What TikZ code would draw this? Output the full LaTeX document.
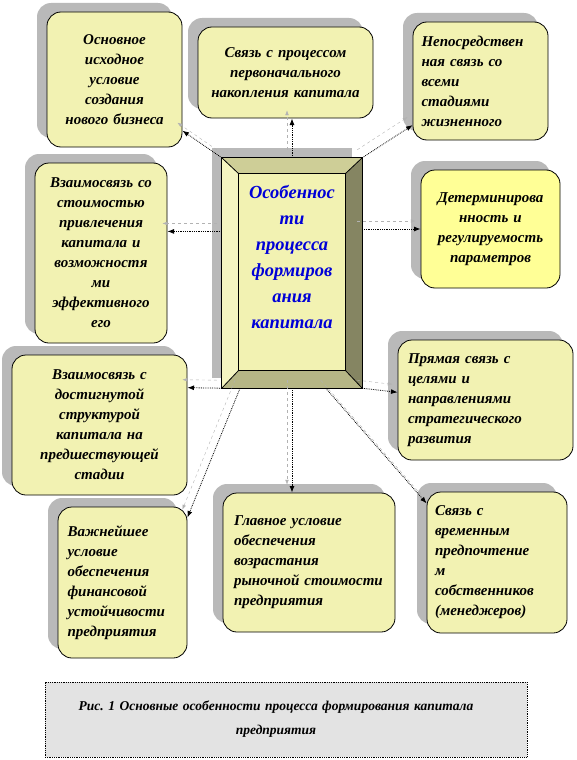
\documentclass[tikz,border=0pt]{standalone}
\usepackage{fontspec}
\setmainfont{Liberation Serif}
\frenchspacing
\usetikzlibrary{calc,arrows.meta,shadows}
\definecolor{boxfill}{RGB}{242,242,178}
\definecolor{lightfill}{RGB}{255,255,150}
\definecolor{coreblue}{RGB}{0,0,215}

\begin{document}
\begin{tikzpicture}[>=Latex,x=1pt,y=-1pt,
  every node/.style={font=\fontsize{15}{20}\selectfont\bfseries\itshape},
  card/.style={draw,thick,rounded corners=14pt,fill=boxfill,inner sep=0pt,
    general shadow={fill=gray!55,shadow xshift=-10pt,shadow yshift=9pt}},
  link/.style={->,densely dotted,thick},
  ghost/.style={->,dashed,gray!60,thin,transform canvas={xshift=-5pt,yshift=8pt}}]
  \useasboundingbox (0,0) rectangle (576,760);
  % Central block: bevelled frame with a shadow
  \node[minimum width=140pt,minimum height=230pt,inner sep=0pt] (core) at (292,273) {};
  \fill[gray!55] ($(core.north west)+(-10,-10)$) rectangle ($(core.south east)+(-10,-10)$);
  \coordinate (i1) at ($(core.north west)+(17,16)$);
  \coordinate (i2) at ($(core.north east)+(-17,16)$);
  \coordinate (i3) at ($(core.south east)+(-17,-18)$);
  \coordinate (i4) at ($(core.south west)+(17,-18)$);
  \fill[boxfill] (i1) rectangle (i3);
  \fill[boxfill!80!white] (core.north west) -- (i1) -- (i4) -- (core.south west) -- cycle;
  \fill[boxfill!85!black] (core.north west) -- (core.north east) -- (i2) -- (i1) -- cycle;
  \fill[boxfill!55!black] (core.north east) -- (core.south east) -- (i3) -- (i2) -- cycle;
  \fill[boxfill!75!black] (core.south west) -- (core.south east) -- (i3) -- (i4) -- cycle;
  \draw[thick] (core.north west) rectangle (core.south east);
  \draw[thick] (i1) rectangle (i3);
  \foreach \c/\i in {north west/i1,north east/i2,south east/i3,south west/i4}
    \draw[thick] (core.\c) -- (\i);
  \node[text=coreblue,align=center,font=\fontsize{18.5}{26}\selectfont\bfseries\itshape] (title) at (292,257)
    {Особеннос\\ти\\процесса\\формиров\\ания\\капитала};
  % Cards around the core
  \node[card,minimum width=135pt,minimum height=135pt,text width=125pt,align=center] (b1) at (114.5,79.5)
    {Основное\\исходное\\условие\\создания\\нового бизнеса};
  \node[card,minimum width=175pt,minimum height=91pt,text width=165pt,align=center] (b2) at (285.5,72.5)
    {Связь с процессом\\первоначального\\накопления капитала};
  \node[card,minimum width=135pt,minimum height=118pt,text width=118pt,align=left] (b3) at (480.5,81)
    {Непосредствен\\ная связь со\\всеми\\стадиями\\жизненного};
  \node[card,minimum width=132pt,minimum height=180pt,text width=125pt,align=center] (b4) at (101,253)
    {Взаимосвязь со\\стоимостью\\привлечения\\капитала и\\возможностя\\ми\\эффективного\\его};
  \node[card,fill=lightfill,minimum width=139pt,minimum height=118pt,text width=135pt,align=center] (b6) at (490.5,229)
    {Детерминирова\\нность и\\регулируемость\\параметров};
  \node[card,minimum width=175pt,minimum height=140pt,text width=165pt,align=center] (b7) at (99.5,425)
    {Взаимосвязь с\\достигнутой\\структурой\\капитала на\\предшествующей\\стадии};
  \node[card,minimum width=175pt,minimum height=120pt,text width=155pt,align=left] (b8) at (485.5,400)
    {Прямая связь с\\целями и\\направлениями\\стратегического\\развития};
  \node[card,minimum width=129pt,minimum height=151pt,text width=110pt,align=left] (b9) at (122.5,582.5)
    {Важнейшее\\условие\\обеспечения\\финансовой\\устойчивости\\предприятия};
  \node[card,minimum width=172pt,minimum height=139pt,text width=150pt,align=left] (b10) at (309,562.5)
    {Главное условие\\обеспечения\\возрастания\\рыночной стоимости\\предприятия};
  \node[card,minimum width=140pt,minimum height=141pt,text width=124pt,align=left] (b11) at (497,562.5)
    {Связь с\\временным\\предпочтение\\м\\собственников\\(менеджеров)};
  % Links from the core to every card
  \coordinate (o9) at ($(core.south west)!0.13!(core.south east)$);
  \coordinate (o11) at ($(core.south west)!0.74!(core.south east)$);
  \foreach \a/\b in {core.north west/b1.-37, core.north/core.north |- b2.south,
      core.north east/b3.213, core.west |- b4.18/b4.18, core.east |- b6.west/b6.west,
      core.south west/b7.23, core.south east/b8.175, o9/b9.45,
      core.south/core.south |- b10.north, o11/b11.140}{
    \draw[ghost] (\a) -- (\b);
    \draw[link] (\a) -- (\b);
  }
  % Caption
  \node[draw,thick,densely dotted,fill=gray!22,minimum width=482pt,minimum height=75pt,
    text width=470pt,align=center,font=\fontsize{13.5}{24}\selectfont\bfseries\itshape] (cap) at (286,719.5)
    {\hspace*{-20pt}Рис. 1 Основные особенности процесса формирования капитала\\\hspace*{-20pt}предприятия};
\end{tikzpicture}
\end{document}
